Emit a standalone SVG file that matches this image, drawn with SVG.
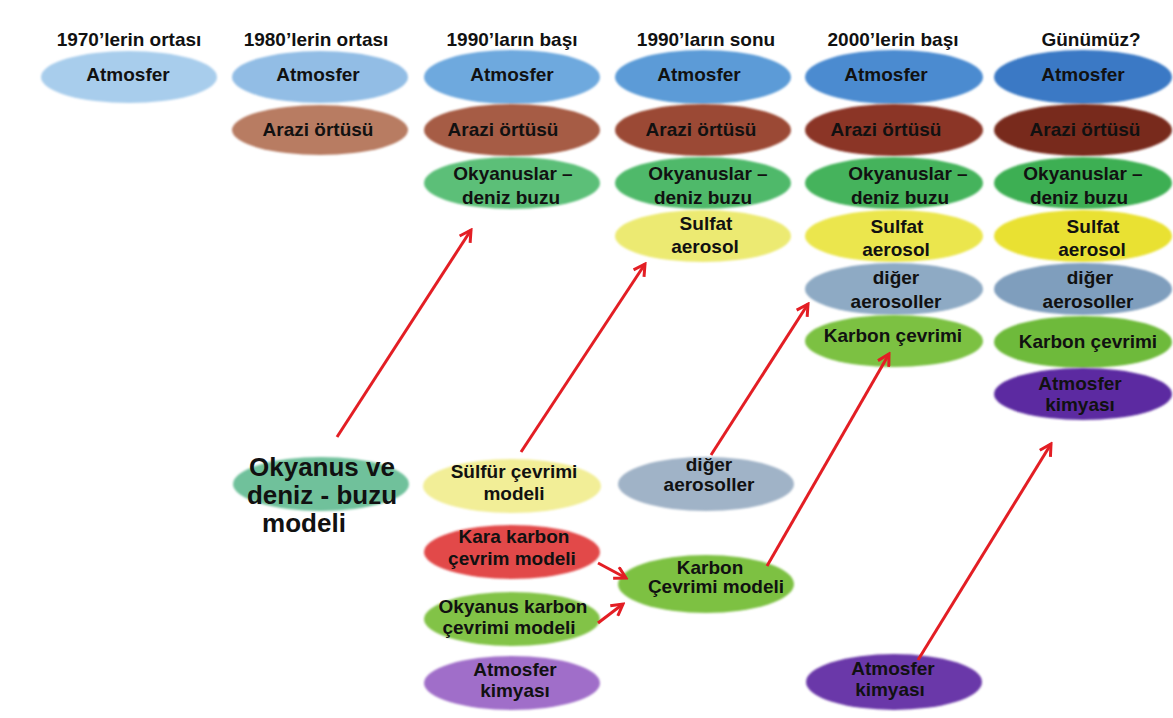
<svg xmlns="http://www.w3.org/2000/svg" width="1173" height="718" viewBox="0 0 1173 718">
<style>
text{font-family:"Liberation Sans",Arial,sans-serif;font-weight:bold;fill:#111111;text-anchor:middle}
.h{font-size:19px}
.t{font-size:19px}
.big{font-size:26px}
ellipse{filter:url(#soft)}
.conn line{stroke:#e31e24;stroke-width:3;marker-end:url(#ah)}
</style>
<defs>
<filter id="soft" x="-5%" y="-10%" width="110%" height="120%"><feGaussianBlur stdDeviation="1.2"/></filter>
<marker id="ah" viewBox="0 0 12 12" refX="10" refY="6" markerWidth="5" markerHeight="5" orient="auto" markerUnits="strokeWidth">
<path d="M1,1 L10,6 L1,11" fill="none" stroke="#e31e24" stroke-width="2.4"/>
</marker>
</defs>
<rect width="1173" height="718" fill="#ffffff"/>

<g id="headers">
<text class="h" x="129" y="46">1970’lerin ortası</text>
<text class="h" x="316" y="46">1980’lerin ortası</text>
<text class="h" x="512" y="46">1990’ların başı</text>
<text class="h" x="706" y="46">1990’ların sonu</text>
<text class="h" x="893" y="46">2000’lerin başı</text>
<text class="h" x="1091" y="46">Günümüz?</text>
</g>

<!-- column 1 -->
<g id="c1-atm"><ellipse cx="129" cy="77" rx="88" ry="26" fill="#a8cdec"/><text class="t" x="128" y="81">Atmosfer</text></g>

<!-- column 2 -->
<g id="c2-atm"><ellipse cx="320" cy="77" rx="88" ry="26" fill="#92bde5"/><text class="t" x="318" y="81">Atmosfer</text></g>
<g id="c2-arazi"><ellipse cx="320" cy="130" rx="88" ry="25" fill="#b87c62"/><text class="t" x="318" y="136">Arazi örtüsü</text></g>

<!-- column 3 -->
<g id="c3-atm"><ellipse cx="512" cy="77" rx="88" ry="27" fill="#6ea9de"/><text class="t" x="512" y="81">Atmosfer</text></g>
<g id="c3-arazi"><ellipse cx="512" cy="130" rx="88" ry="26" fill="#a65c45"/><text class="t" x="503" y="136">Arazi örtüsü</text></g>
<g id="c3-okyanus"><ellipse cx="512" cy="183" rx="88" ry="26" fill="#5cbf78"/><text class="t" x="513" y="180">Okyanuslar –</text><text class="t" x="511" y="204">deniz buzu</text></g>

<!-- column 4 -->
<g id="c4-atm"><ellipse cx="703" cy="77" rx="88" ry="27" fill="#5c9bd7"/><text class="t" x="699" y="81">Atmosfer</text></g>
<g id="c4-arazi"><ellipse cx="703" cy="130" rx="88" ry="26" fill="#9b4934"/><text class="t" x="701" y="136">Arazi örtüsü</text></g>
<g id="c4-okyanus"><ellipse cx="703" cy="183" rx="88" ry="26" fill="#4fb96b"/><text class="t" x="708" y="180">Okyanuslar –</text><text class="t" x="703" y="204">deniz buzu</text></g>
<g id="c4-sulfat"><ellipse cx="703" cy="236" rx="88" ry="26" fill="#ecea72"/><text class="t" x="706" y="230">Sulfat</text><text class="t" x="705" y="253">aerosol</text></g>

<!-- column 5 -->
<g id="c5-atm"><ellipse cx="894" cy="77" rx="89" ry="27" fill="#4b8bd0"/><text class="t" x="886" y="81">Atmosfer</text></g>
<g id="c5-arazi"><ellipse cx="894" cy="130" rx="89" ry="26" fill="#8b3425"/><text class="t" x="886" y="136">Arazi örtüsü</text></g>
<g id="c5-okyanus"><ellipse cx="894" cy="183" rx="89" ry="26" fill="#45b35c"/><text class="t" x="908" y="180">Okyanuslar –</text><text class="t" x="900" y="204">deniz buzu</text></g>
<g id="c5-sulfat"><ellipse cx="894" cy="236" rx="89" ry="26" fill="#ebe64e"/><text class="t" x="897" y="233">Sulfat</text><text class="t" x="896" y="256">aerosol</text></g>
<g id="c5-diger"><ellipse cx="894" cy="289" rx="89" ry="26" fill="#8eaac4"/><text class="t" x="896" y="284">diğer</text><text class="t" x="896" y="308">aerosoller</text></g>
<g id="c5-karbon"><ellipse cx="894" cy="341" rx="89" ry="26" fill="#7bc142"/><text class="t" x="893" y="342">Karbon çevrimi</text></g>

<!-- column 6 -->
<g id="c6-atm"><ellipse cx="1083" cy="77" rx="89" ry="27" fill="#3b79c5"/><text class="t" x="1083" y="81">Atmosfer</text></g>
<g id="c6-arazi"><ellipse cx="1083" cy="130" rx="89" ry="26" fill="#78291b"/><text class="t" x="1085" y="136">Arazi örtüsü</text></g>
<g id="c6-okyanus"><ellipse cx="1083" cy="183" rx="89" ry="26" fill="#3eaf52"/><text class="t" x="1083" y="180">Okyanuslar –</text><text class="t" x="1079" y="204">deniz buzu</text></g>
<g id="c6-sulfat"><ellipse cx="1083" cy="236" rx="89" ry="26" fill="#e9e131"/><text class="t" x="1093" y="233">Sulfat</text><text class="t" x="1092" y="256">aerosol</text></g>
<g id="c6-diger"><ellipse cx="1083" cy="289" rx="89" ry="26" fill="#7f9ebd"/><text class="t" x="1090" y="284">diğer</text><text class="t" x="1088" y="308">aerosoller</text></g>
<g id="c6-karbon"><ellipse cx="1083" cy="342" rx="89" ry="26" fill="#6eba3a"/><text class="t" x="1088" y="348">Karbon çevrimi</text></g>
<g id="c6-kimya"><ellipse cx="1083" cy="394" rx="89" ry="26" fill="#5b2ba1"/><text class="t" x="1080" y="390">Atmosfer</text><text class="t" x="1080" y="411">kimyası</text></g>

<!-- lower nodes -->
<g id="okyanus-model"><ellipse cx="321" cy="484" rx="88" ry="27" fill="#6fc19b"/><text class="big" x="322" y="476">Okyanus ve</text><text class="big" x="322" y="504">deniz - buzu</text><text class="big" x="304" y="532">modeli</text></g>
<g id="sulfur-model"><ellipse cx="512" cy="486" rx="89" ry="27" fill="#f2ee97"/><text class="t" x="514" y="478">Sülfür çevrimi</text><text class="t" x="514" y="500">modeli</text></g>
<g id="kara-karbon"><ellipse cx="512" cy="552" rx="88" ry="27" fill="#e24a4a"/><text class="t" x="514" y="543">Kara karbon</text><text class="t" x="512" y="565">çevrim modeli</text></g>
<g id="okyanus-karbon"><ellipse cx="512" cy="619" rx="88" ry="27" fill="#82c347"/><text class="t" x="513" y="613">Okyanus karbon</text><text class="t" x="509" y="634">çevrimi modeli</text></g>
<g id="kimya-left"><ellipse cx="512" cy="683" rx="88" ry="27" fill="#a06ec9"/><text class="t" x="515" y="676">Atmosfer</text><text class="t" x="515" y="697">kimyası</text></g>
<g id="diger-model"><ellipse cx="706" cy="484" rx="88" ry="27" fill="#a0b3c7"/><text class="t" x="709" y="471">diğer</text><text class="t" x="709" y="491">aerosoller</text></g>
<g id="karbon-model"><ellipse cx="706" cy="584" rx="88" ry="29" fill="#7dc142"/><text class="t" x="710" y="574">Karbon</text><text class="t" x="716" y="593">Çevrimi modeli</text></g>
<g id="kimya-mid"><ellipse cx="894" cy="682" rx="88" ry="28" fill="#6a38a9"/><text class="t" x="893" y="675">Atmosfer</text><text class="t" x="890" y="696">kimyası</text></g>

<g id="connectors" class="conn">
<line x1="337" y1="437" x2="471" y2="230"/>
<line x1="521" y1="452" x2="645" y2="264"/>
<line x1="711" y1="455" x2="808" y2="304"/>
<line x1="767" y1="566" x2="889" y2="354"/>
<line x1="918" y1="660" x2="1051" y2="444"/>
<line x1="598" y1="563" x2="626" y2="578"/>
<line x1="598" y1="623" x2="623" y2="604"/>
</g>
</svg>
